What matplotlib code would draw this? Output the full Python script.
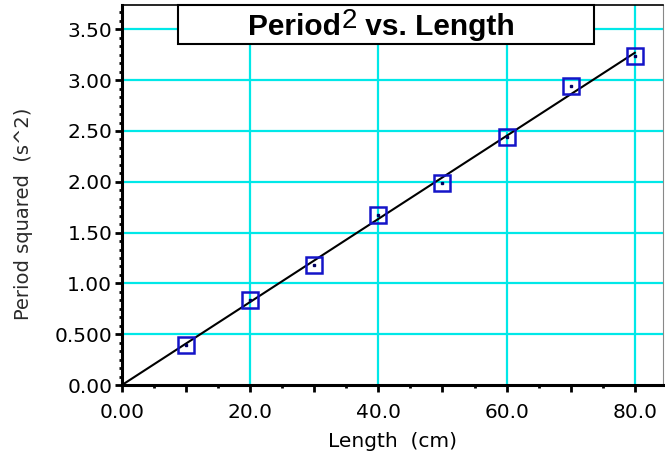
import numpy as np
import matplotlib
matplotlib.use('Agg')
import matplotlib.pyplot as plt
from matplotlib.ticker import MultipleLocator, FuncFormatter

length = [10, 20, 30, 40, 50, 60, 70, 80]
period_sq = [0.39, 0.84, 1.18, 1.67, 1.99, 2.44, 2.94, 3.24]
x_grid = [20, 40, 60, 80]
y_grid = [0.5, 1.0, 1.5, 2.0, 2.5, 3.0, 3.5]

x = np.array(length)
y = np.array(period_sq)
slope = np.sum(x * y) / np.sum(x * x)   # fit through origin

fig = plt.figure(figsize=(6.65, 4.61), dpi=100)
ax = fig.add_axes([122/665, 76/461, 541/665, 380/461])
ax.set_xlim(0, 84.4)
ax.set_ylim(0, 3.74)

cyan = '#00e8e8'
for g in x_grid:
    ax.axvline(g, color=cyan, lw=1.6, zorder=1)
for g in y_grid:
    ax.axhline(g, color=cyan, lw=1.6, zorder=1)

xf = np.array([0, 80])
ax.plot(xf, slope * xf, color='black', lw=1.5, zorder=3)
ax.plot(x, y, ls='none', marker='s', ms=12, mfc='none', mec='#1414c8', mew=1.8, zorder=4)
ax.plot(x, y, ls='none', marker='s', ms=1.6, color='#000060', zorder=5)

ax.xaxis.set_major_locator(MultipleLocator(10))
ax.xaxis.set_minor_locator(MultipleLocator(5))
ax.xaxis.set_major_formatter(FuncFormatter(lambda v, p: '%.2f' % v if v == 0 else ('%.1f' % v if int(round(v)) % 20 == 0 else '')))
ax.yaxis.set_major_locator(MultipleLocator(0.5))
ax.yaxis.set_minor_locator(MultipleLocator(0.5/6))
ax.yaxis.set_major_formatter(FuncFormatter(lambda v, p: '%.3f' % v if abs(v - 0.5) < 1e-6 else '%.2f' % v))

ax.tick_params(which='major', direction='out', length=5, width=2, labelsize=14.5, pad=2)
ax.tick_params(which='minor', direction='out', length=2, width=2)
ax.tick_params(axis='x', which='major', pad=8)

for s in ['left', 'bottom']:
    ax.spines[s].set_linewidth(2.2)
ax.spines['top'].set_linewidth(1.2)
ax.spines['right'].set_linewidth(0.8)
ax.spines['right'].set_color('#888888')

ax.set_xlabel('Length  (cm)', fontsize=14.5, labelpad=7)
ax.set_ylabel('Period squared  (s^2)', fontsize=14, color='#2a2a2a', labelpad=10)
ax.yaxis.set_label_coords(-0.165, 0.45)

# title box
ax.add_patch(plt.Rectangle((178/665, 417/461), (594-178)/665, (456-417)/461, transform=fig.transFigure,
                           facecolor='white', edgecolor='black', lw=1.5, zorder=10, clip_on=False))
fig.canvas.draw()
r = fig.canvas.get_renderer()
t1 = fig.text(248/665, 434/461, 'Period', fontsize=21.5, fontweight='bold', family='Liberation Sans',
              va='center', ha='left', zorder=11)
bb = t1.get_window_extent(r)
t2 = fig.text(bb.x1 / 665 + 1/665, 440/461, '2', fontsize=20, family='Liberation Sans',
              va='center', ha='left', zorder=11)
bb2 = t2.get_window_extent(r)
fig.text(bb2.x1 / 665, 434/461, ' vs. Length', fontsize=21.5, fontweight='bold', family='Liberation Sans',
         va='center', ha='left', zorder=11)

fig.savefig('out.png', dpi=100)
